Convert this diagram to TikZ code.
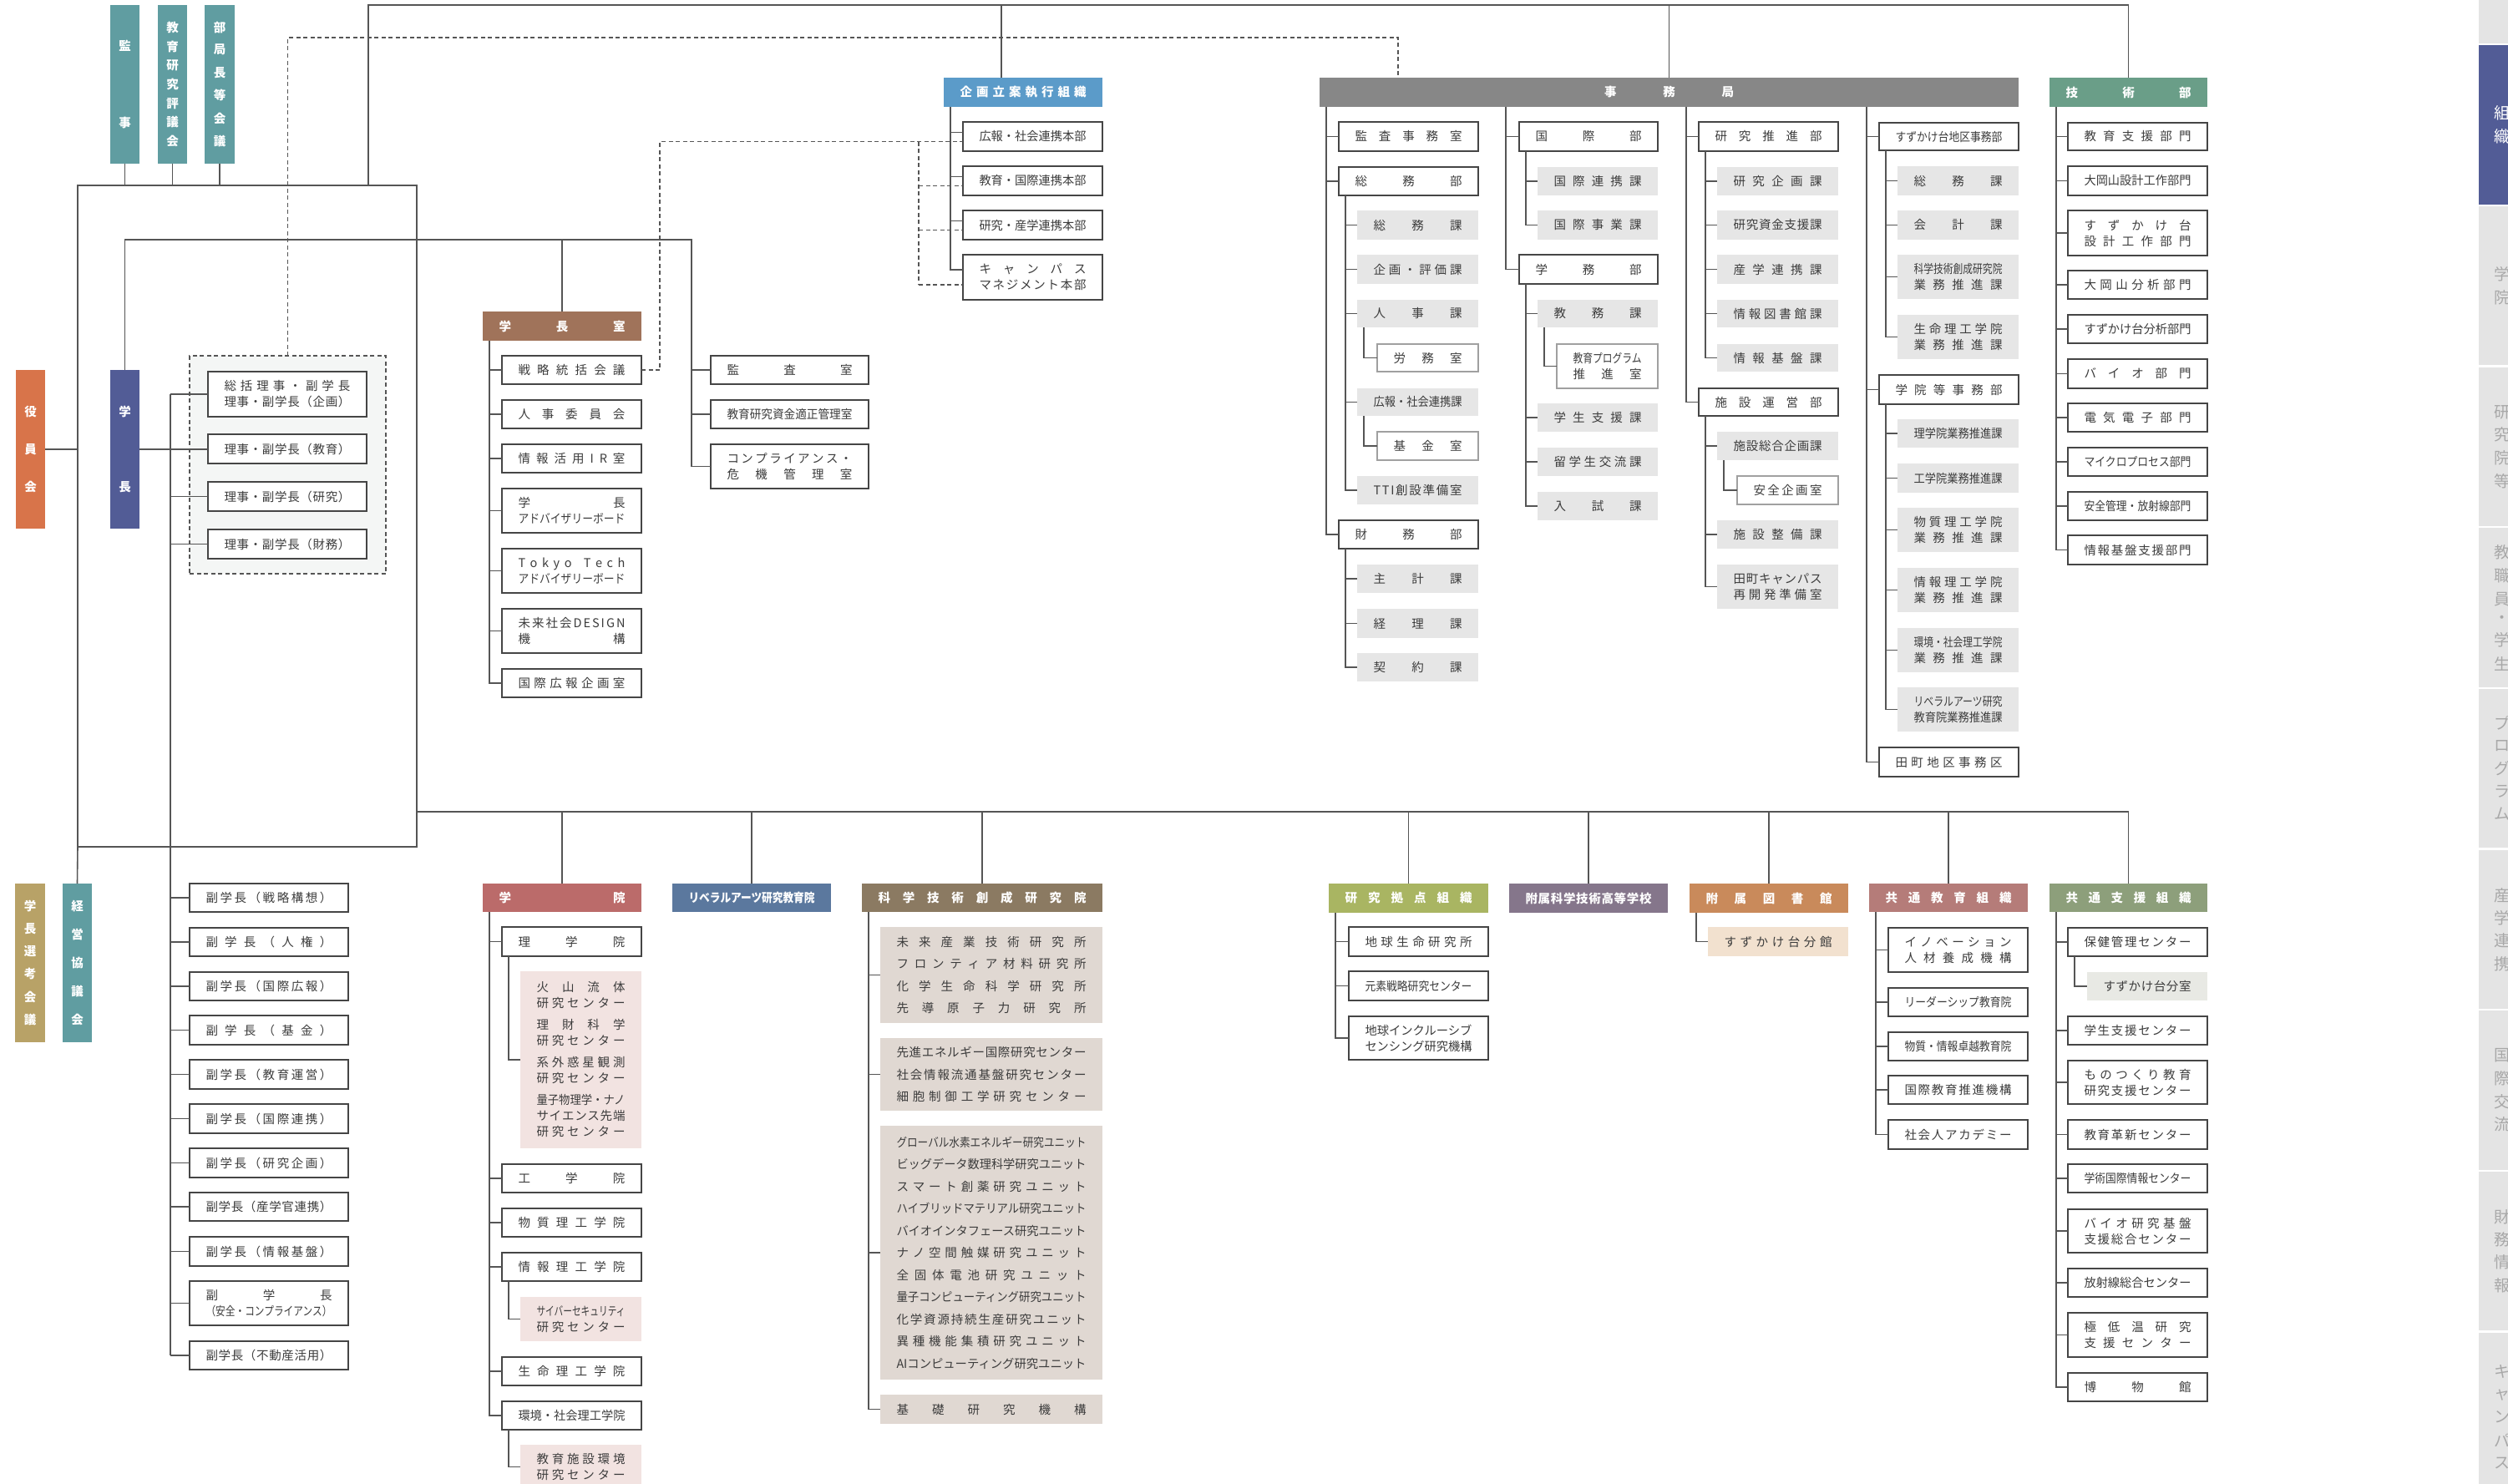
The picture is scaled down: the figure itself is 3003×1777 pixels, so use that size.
\documentclass[tikz,border=0pt]{standalone}
\usepackage{fontspec}
\setmainfont{Noto Sans CJK JP}
\usepackage{graphicx}
\usetikzlibrary{calc}

\definecolor{lnc}{HTML}{555555}
\definecolor{bdc}{HTML}{454545}
\definecolor{thc}{HTML}{A0A0A0}
\definecolor{txc}{HTML}{3C3C3C}
\definecolor{gyc}{HTML}{E6E6E6}
\definecolor{pkc}{HTML}{F2E3E1}
\definecolor{bgc}{HTML}{E0D8D2}
\definecolor{pcc}{HTML}{F2E1CF}
\definecolor{sgc}{HTML}{E8E9E4}
\definecolor{dbx}{HTML}{F4F6F5}
\definecolor{cteal}{HTML}{609DA1}
\definecolor{corange}{HTML}{D8744A}
\definecolor{cindigo}{HTML}{525C96}
\definecolor{ckhaki}{HTML}{B8A267}
\definecolor{cbrown}{HTML}{A0735A}
\definecolor{cblue}{HTML}{5B9BC9}
\definecolor{cgrey}{HTML}{878787}
\definecolor{cgreen}{HTML}{6A9E88}
\definecolor{cred}{HTML}{BB6B6A}
\definecolor{cnavy}{HTML}{5B789E}
\definecolor{ctaupe}{HTML}{8B7A62}
\definecolor{colive}{HTML}{A9B562}
\definecolor{cpurple}{HTML}{85768B}
\definecolor{ccopper}{HTML}{C98A5B}
\definecolor{crose}{HTML}{B57C79}
\definecolor{csage}{HTML}{8D9F7B}
\definecolor{tabg}{HTML}{E4E4E4}
\definecolor{tabt}{HTML}{A8A8A8}

\newsavebox\fitbox
\newlength\tw
\let\distend\relax
\def\distloop#1{#1\futurelet\dnext\distcheck}
\def\distcheck{\ifx\dnext\distend\expandafter\diststop\else\hfill\expandafter\distloop\fi}
\def\diststop#1{}
\newcommand\fl[2]{\sbox\fitbox{#2}\ifdim\wd\fitbox>#1\relax\resizebox{#1}{\height}{\usebox\fitbox}\else\hbox to #1{\distloop#2\distend}\fi}
\newcommand\jl[1]{\fl{\tw}{#1}}
\def\vloop#1{\hbox to 0pt{\hss#1\hss}\futurelet\dnext\vcheck}
\def\vcheck{\ifx\dnext\distend\expandafter\diststop\else\vfill\expandafter\vloop\fi}
\newcommand\vt[2]{\vbox to #1{\offinterlineskip\vloop#2\distend}}
\newcommand\fs{\fontsize{14.5}{19}\selectfont}

\newcommand\bx[7][]{%
  \pgfmathsetlength\tw{#5-#3-39}%
  \pgfmathsetmacro\bxw{#5-#3}%
  \pgfmathsetmacro\bxh{#6-#4}%
  \node[#1,minimum width=\bxw pt,minimum height=\bxh pt] (#2) at ({(#3+#5)/2},{(#4+#6)/2}) {#7};}
\newcommand\sub[2]{\draw[ln] ([xshift=8pt]#1.south west) |- (#2.west);}

\tikzset{
  every node/.style={inner sep=0pt,outer sep=0pt},
  ln/.style={draw=lnc,line width=1.6pt},
  dsh/.style={draw=lnc,line width=1.3pt,dash pattern=on 5pt off 3.5pt},
  wb/.style={draw=bdc,line width=1.8pt,fill=white,text=txc,align=center,font=\fs},
  tb/.style={draw=thc,line width=1.1pt,fill=white,text=txc,align=center,font=\fs},
  gb/.style={fill=gyc,text=txc,align=center,font=\fs},
  pb/.style={fill=pkc,text=txc,align=center,font=\fs},
  sb/.style={fill=bgc,text=txc,align=center,font=\fontsize{14.5}{26.5}\selectfont},
  hd/.style={fill=#1,text=white,align=center,font=\fs\bfseries},
  vb/.style={fill=#1,text=white,font=\fs\bfseries},
  dboxs/.style={fill=dbx,draw=lnc,line width=1.3pt,dash pattern=on 5pt off 3.5pt},
  tabr/.style={fill=#1},
  tabtx/.style={text=#1,font=\fontsize{19}{19}\selectfont},
}

\begin{document}
\begin{tikzpicture}[x=1pt,y=-1pt]
\useasboundingbox (0,0) rectangle (3003,1777);
\clip (0,0) rectangle (3003,1777);
\fill[white] (0,0) rectangle (3003,1777);

% ---------------- right tabs
\bx[tabr=tabg]{tab0}{2968}{-10}{3020}{52}{}
\bx[tabr=cindigo]{tab1}{2968}{54}{3020}{245}{}
\bx[tabr=tabg]{tab2}{2968}{247}{3020}{437}{}
\bx[tabr=tabg]{tab3}{2968}{440}{3020}{630}{}
\bx[tabr=tabg]{tab4}{2968}{632}{3020}{823}{}
\bx[tabr=tabg]{tab5}{2968}{825}{3020}{1015}{}
\bx[tabr=tabg]{tab6}{2968}{1018}{3020}{1208}{}
\bx[tabr=tabg]{tab7}{2968}{1210}{3020}{1401}{}
\bx[tabr=tabg]{tab8}{2968}{1403}{3020}{1593}{}
\bx[tabr=tabg]{tab9}{2968}{1596}{3020}{1790}{}
\node[tabtx=white] (tx1) at (2996,149.5) {\vt{44pt}{組織}};
\node[tabtx=tabt] (tx2) at (2996,342) {\vt{44pt}{学院}};
\node[tabtx=tabt] (tx3) at (2996,535) {\vt{98pt}{研究院等}};
\node[tabtx=tabt] (tx4) at (2996,727.5) {\vt{150pt}{教職員・学生}};
\node[tabtx=tabt] (tx5) at (2996,920) {\vt{124pt}{プログラム}};
\node[tabtx=tabt] (tx6) at (2996,1113) {\vt{98pt}{産学連携}};
\node[tabtx=tabt] (tx7) at (2996,1305.5) {\vt{98pt}{国際交流}};
\node[tabtx=tabt] (tx8) at (2996,1498) {\vt{98pt}{財務情報}};
\node[tabtx=tabt] (tx9) at (2996,1697) {\vt{124pt}{キャンパス}};

% ---------------- top-left governance
\bx[vb=cteal]{kanji}{132}{6}{167}{196}{\vt{104pt}{監事}}
\bx[vb=cteal]{hyogi}{189}{6}{224}{196}{\vt{149pt}{教育研究評議会}}
\bx[vb=cteal]{bukyoku}{245}{6}{281}{196}{\vt{149pt}{部局長等会議}}
\bx[vb=corange]{yakuin}{19}{443}{54}{633}{\vt{103pt}{役員会}}
\bx[vb=cindigo]{gakucho}{132}{443}{167}{633}{\vt{103pt}{学長}}
\bx[vb=ckhaki]{senko}{18}{1058}{54}{1248}{\vt{149pt}{学長選考会議}}
\bx[vb=cteal]{keiei}{75}{1058}{110}{1248}{\vt{149pt}{経営協議会}}

\bx[dboxs]{dbox}{227}{426}{462}{687}{}
\bx[wb]{riji1}{249}{445}{439}{499}{\jl{総括理事・副学長}\\\jl{理事・副学長（企画）}}
\bx[wb]{riji2}{249}{520}{439}{555}{\jl{理事・副学長（教育）}}
\bx[wb]{riji3}{249}{577}{439}{612}{\jl{理事・副学長（研究）}}
\bx[wb]{riji4}{249}{634}{439}{669}{\jl{理事・副学長（財務）}}

% vice presidents
\bx[wb]{f1}{227}{1058}{417}{1092}{\jl{副学長（戦略構想）}}
\bx[wb]{f2}{227}{1111}{417}{1145}{\jl{副学長（人権）}}
\bx[wb]{f3}{227}{1164}{417}{1198}{\jl{副学長（国際広報）}}
\bx[wb]{f4}{227}{1216}{417}{1251}{\jl{副学長（基金）}}
\bx[wb]{f5}{227}{1269}{417}{1304}{\jl{副学長（教育運営）}}
\bx[wb]{f6}{227}{1322}{417}{1357}{\jl{副学長（国際連携）}}
\bx[wb]{f7}{227}{1375}{417}{1410}{\jl{副学長（研究企画）}}
\bx[wb]{f8}{227}{1428}{417}{1462}{\jl{副学長（産学官連携）}}
\bx[wb]{f9}{227}{1481}{417}{1516}{\jl{副学長（情報基盤）}}
\bx[wb]{f10}{227}{1534}{417}{1587}{\jl{副学長}\\\jl{（安全・コンプライアンス）}}
\bx[wb]{f11}{227}{1606}{417}{1640}{\jl{副学長（不動産活用）}}

% ---------------- 学長室
\bx[hd=cbrown]{gch}{578}{373}{768}{408}{\jl{学長室}}
\bx[wb]{senryaku}{601}{426}{768}{460}{\jl{戦略統括会議}}
\bx[wb]{jinji}{601}{479}{768}{513}{\jl{人事委員会}}
\bx[wb]{ir}{601}{532}{768}{566}{\jl{情報活用IR室}}
\bx[wb]{adv}{601}{585}{768}{638}{\jl{学長}\\\jl{アドバイザリーボード}}
\bx[wb]{tt}{601}{657}{768}{710}{\jl{Tokyo\ Tech}\\\jl{アドバイザリーボード}}
\bx[wb]{mirai}{601}{729}{768}{782}{\jl{未来社会DESIGN}\\\jl{機構}}
\bx[wb]{kokuho}{601}{801}{768}{835}{\jl{国際広報企画室}}
\bx[wb]{kansa}{851}{426}{1040}{460}{\jl{監査室}}
\bx[wb]{tekisei}{851}{479}{1040}{513}{\jl{教育研究資金適正管理室}}
\bx[wb]{comp}{851}{532}{1040}{585}{\jl{コンプライアンス・}\\\jl{危機管理室}}

% ---------------- 企画立案執行組織
\bx[hd=cblue]{kh}{1130}{93}{1320}{128}{\jl{企画立案執行組織}}
\bx[wb]{k1}{1153}{146}{1320}{181}{\jl{広報・社会連携本部}}
\bx[wb]{k2}{1153}{199}{1320}{234}{\jl{教育・国際連携本部}}
\bx[wb]{k3}{1153}{252}{1320}{287}{\jl{研究・産学連携本部}}
\bx[wb]{k4}{1153}{305}{1320}{359}{\jl{キャンパス}\\\jl{マネジメント本部}}

% ---------------- 事務局
\bx[hd=cgrey]{jimu}{1580}{93}{2417}{128}{\fl{155pt}{事務局}}
% col 1
\bx[wb]{kansajm}{1603}{146}{1770}{181}{\jl{監査事務室}}
\bx[wb]{somubu}{1603}{200}{1770}{234}{\jl{総務部}}
\bx[gb]{somuka}{1625}{252}{1770}{287}{\jl{総務課}}
\bx[gb]{kikakuka}{1625}{305}{1770}{340}{\jl{企画・評価課}}
\bx[gb]{jinjika}{1625}{359}{1770}{392}{\jl{人事課}}
\bx[tb]{romu}{1649}{412}{1770}{445}{\jl{労務室}}
\bx[gb]{kohoka}{1625}{465}{1770}{498}{\jl{広報・社会連携課}}
\bx[tb]{kikin}{1649}{517}{1770}{551}{\jl{基金室}}
\bx[gb]{tti}{1625}{570}{1770}{604}{\jl{TTI創設準備室}}
\bx[wb]{zaimubu}{1603}{623}{1770}{657}{\jl{財務部}}
\bx[gb]{shukei}{1625}{676}{1770}{710}{\jl{主計課}}
\bx[gb]{keiri}{1625}{729}{1770}{764}{\jl{経理課}}
\bx[gb]{keiyaku}{1625}{782}{1770}{816}{\jl{契約課}}
% col 2
\bx[wb]{kokusaibu}{1819}{146}{1985}{181}{\jl{国際部}}
\bx[gb]{renkei}{1841}{200}{1985}{234}{\jl{国際連携課}}
\bx[gb]{jigyo}{1841}{252}{1985}{287}{\jl{国際事業課}}
\bx[wb]{gakumubu}{1819}{305}{1985}{340}{\jl{学務部}}
\bx[gb]{kyomu}{1841}{359}{1985}{392}{\jl{教務課}}
\bx[tb]{kyoprog}{1864}{412}{1985}{465}{\jl{教育プログラム}\\\jl{推進室}}
\bx[gb]{gakusei}{1841}{483}{1985}{517}{\jl{学生支援課}}
\bx[gb]{ryugaku}{1841}{536}{1985}{570}{\jl{留学生交流課}}
\bx[gb]{nyushi}{1841}{589}{1985}{623}{\jl{入試課}}
% col 3
\bx[wb]{kenkyubu}{2034}{146}{2201}{181}{\jl{研究推進部}}
\bx[gb]{kk1}{2056}{200}{2201}{234}{\jl{研究企画課}}
\bx[gb]{kk2}{2056}{252}{2201}{287}{\jl{研究資金支援課}}
\bx[gb]{kk3}{2056}{305}{2201}{340}{\jl{産学連携課}}
\bx[gb]{kk4}{2056}{359}{2201}{392}{\jl{情報図書館課}}
\bx[gb]{kk5}{2056}{412}{2201}{445}{\jl{情報基盤課}}
\bx[wb]{shisetsubu}{2034}{465}{2201}{498}{\jl{施設運営部}}
\bx[gb]{ss1}{2056}{517}{2201}{551}{\jl{施設総合企画課}}
\bx[tb]{anzen}{2080}{570}{2201}{604}{\jl{安全企画室}}
\bx[gb]{ss3}{2056}{623}{2201}{657}{\jl{施設整備課}}
\bx[gb]{ss4}{2056}{676}{2201}{729}{\jl{田町キャンパス}\\\jl{再開発準備室}}
% col 4
\bx[wb]{suzubu}{2250}{147}{2417}{180}{\jl{すずかけ台地区事務部}}
\bx[gb]{sz1}{2272}{199}{2417}{234}{\jl{総務課}}
\bx[gb]{sz2}{2272}{252}{2417}{287}{\jl{会計課}}
\bx[gb]{sz3}{2272}{305}{2417}{358}{\jl{科学技術創成研究院}\\\jl{業務推進課}}
\bx[gb]{sz4}{2272}{377}{2417}{430}{\jl{生命理工学院}\\\jl{業務推進課}}
\bx[wb]{gakuinbu}{2250}{449}{2417}{484}{\jl{学院等事務部}}
\bx[gb]{gi1}{2272}{502}{2417}{536}{\jl{理学院業務推進課}}
\bx[gb]{gi2}{2272}{555}{2417}{590}{\jl{工学院業務推進課}}
\bx[gb]{gi3}{2272}{608}{2417}{661}{\jl{物質理工学院}\\\jl{業務推進課}}
\bx[gb]{gi4}{2272}{680}{2417}{733}{\jl{情報理工学院}\\\jl{業務推進課}}
\bx[gb]{gi5}{2272}{752}{2417}{805}{\jl{環境・社会理工学院}\\\jl{業務推進課}}
\bx[gb]{gi6}{2272}{823}{2417}{876}{\jl{リベラルアーツ研究}\\\jl{教育院業務推進課}}
\bx[wb]{tamachi}{2250}{895}{2417}{930}{\jl{田町地区事務区}}

% ---------------- 技術部
\bx[hd=cgreen]{gij}{2454}{93}{2643}{128}{\jl{技術部}}
\bx[wb]{g1}{2476}{147}{2643}{180}{\jl{教育支援部門}}
\bx[wb]{g2}{2476}{199}{2643}{234}{\jl{大岡山設計工作部門}}
\bx[wb]{g3}{2476}{252}{2643}{306}{\jl{すずかけ台}\\\jl{設計工作部門}}
\bx[wb]{g4}{2476}{324}{2643}{358}{\jl{大岡山分析部門}}
\bx[wb]{g5}{2476}{377}{2643}{411}{\jl{すずかけ台分析部門}}
\bx[wb]{g6}{2476}{430}{2643}{465}{\jl{バイオ部門}}
\bx[wb]{g7}{2476}{483}{2643}{517}{\jl{電気電子部門}}
\bx[wb]{g8}{2476}{536}{2643}{570}{\jl{マイクロプロセス部門}}
\bx[wb]{g9}{2476}{589}{2643}{623}{\jl{安全管理・放射線部門}}
\bx[wb]{g10}{2476}{641}{2643}{676}{\jl{情報基盤支援部門}}

% ---------------- bottom row headers
\bx[hd=cred]{gakuin}{578}{1058}{768}{1092}{\jl{学院}}
\bx[hd=cnavy]{liberal}{805}{1058}{995}{1092}{\jl{リベラルアーツ研究教育院}}
\bx[hd=ctaupe]{sozo}{1032}{1058}{1320}{1092}{\jl{科学技術創成研究院}}
\bx[hd=colive]{kyoten}{1591}{1058}{1782}{1093}{\jl{研究拠点組織}}
\bx[hd=cpurple]{fuzoku}{1807}{1058}{1997}{1093}{\jl{附属科学技術高等学校}}
\bx[hd=ccopper]{tosho}{2023}{1058}{2213}{1093}{\jl{附属図書館}}
\bx[hd=crose]{kyoiku}{2238}{1058}{2428}{1092}{\jl{共通教育組織}}
\bx[hd=csage]{shien}{2454}{1058}{2643}{1092}{\jl{共通支援組織}}

% 学院
\bx[wb]{rigaku}{601}{1110}{768}{1145}{\jl{理学院}}
\bx[pb]{pink1}{623}{1163}{768}{1375}{\jl{火山流体}\\\jl{研究センター}\\[7pt]\jl{理財科学}\\\jl{研究センター}\\[7pt]\jl{系外惑星観測}\\\jl{研究センター}\\[7pt]\jl{量子物理学・ナノ}\\\jl{サイエンス先端}\\\jl{研究センター}}
\bx[wb]{kogaku}{601}{1394}{768}{1428}{\jl{工学院}}
\bx[wb]{busshitsu}{601}{1447}{768}{1481}{\jl{物質理工学院}}
\bx[wb]{joho}{601}{1500}{768}{1534}{\jl{情報理工学院}}
\bx[pb]{pink2}{623}{1553}{768}{1606}{\jl{サイバーセキュリティ}\\\jl{研究センター}}
\bx[wb]{seimei}{601}{1625}{768}{1659}{\jl{生命理工学院}}
\bx[wb]{kankyo}{601}{1678}{768}{1712}{\jl{環境・社会理工学院}}
\bx[pb]{pink3}{623}{1730}{768}{1783}{\jl{教育施設環境}\\\jl{研究センター}}

% 科学技術創成研究院
\bx[sb]{s1}{1054}{1110}{1320}{1225}{\jl{未来産業技術研究所}\\\jl{フロンティア材料研究所}\\\jl{化学生命科学研究所}\\\jl{先導原子力研究所}}
\bx[sb]{s2}{1054}{1243}{1320}{1330}{\jl{先進エネルギー国際研究センター}\\\jl{社会情報流通基盤研究センター}\\\jl{細胞制御工学研究センター}}
\bx[sb]{s3}{1054}{1348}{1320}{1652}{\jl{グローバル水素エネルギー研究ユニット}\\\jl{ビッグデータ数理科学研究ユニット}\\\jl{スマート創薬研究ユニット}\\\jl{ハイブリッドマテリアル研究ユニット}\\\jl{バイオインタフェース研究ユニット}\\\jl{ナノ空間触媒研究ユニット}\\\jl{全固体電池研究ユニット}\\\jl{量子コンピューティング研究ユニット}\\\jl{化学資源持続生産研究ユニット}\\\jl{異種機能集積研究ユニット}\\\jl{AIコンピューティング研究ユニット}}
\bx[sb]{s4}{1054}{1670}{1320}{1705}{\jl{基礎研究機構}}

% 研究拠点組織
\bx[wb]{c1}{1615}{1110}{1782}{1145}{\jl{地球生命研究所}}
\bx[wb]{c2}{1615}{1163}{1782}{1198}{\jl{元素戦略研究センター}}
\bx[wb]{c3}{1615}{1217}{1782}{1269}{\jl{地球インクルーシブ}\\\jl{センシング研究機構}}

% 附属図書館
\bx[gb,fill=pcc]{bunkan}{2045}{1110}{2213}{1145}{\jl{すずかけ台分館}}

% 共通教育組織
\bx[wb]{e1}{2261}{1111}{2428}{1164}{\jl{イノベーション}\\\jl{人材養成機構}}
\bx[wb]{e2}{2261}{1183}{2428}{1217}{\jl{リーダーシップ教育院}}
\bx[wb]{e3}{2261}{1236}{2428}{1270}{\jl{物質・情報卓越教育院}}
\bx[wb]{e4}{2261}{1288}{2428}{1322}{\jl{国際教育推進機構}}
\bx[wb]{e5}{2261}{1341}{2428}{1376}{\jl{社会人アカデミー}}

% 共通支援組織
\bx[wb]{h1}{2476}{1111}{2643}{1145}{\jl{保健管理センター}}
\bx[gb,fill=sgc]{h1b}{2499}{1164}{2643}{1198}{\jl{すずかけ台分室}}
\bx[wb]{h2}{2476}{1217}{2643}{1251}{\jl{学生支援センター}}
\bx[wb]{h3}{2476}{1270}{2643}{1322}{\jl{ものつくり教育}\\\jl{研究支援センター}}
\bx[wb]{h4}{2476}{1341}{2643}{1376}{\jl{教育革新センター}}
\bx[wb]{h5}{2476}{1394}{2643}{1428}{\jl{学術国際情報センター}}
\bx[wb]{h6}{2476}{1448}{2643}{1500}{\jl{バイオ研究基盤}\\\jl{支援総合センター}}
\bx[wb]{h7}{2476}{1519}{2643}{1553}{\jl{放射線総合センター}}
\bx[wb]{h8}{2476}{1572}{2643}{1625}{\jl{極低温研究}\\\jl{支援センター}}
\bx[wb]{h9}{2476}{1644}{2643}{1678}{\jl{博物館}}

% ================= connectors
\coordinate (fA) at (93,222);
\coordinate (fB) at (499,1014);
\draw[ln] (fA) rectangle (fB);
\draw[ln] (fA |- fB) -- (keiei.north);
\foreach \n in {kanji,hyogi,bukyoku} {\draw[ln] (\n.south) -- (\n.south |- fA);}
\draw[ln] (yakuin.east) -- (yakuin.east -| fA);
\coordinate (topL) at (441,6);
\draw[ln] (topL |- fA) -- (topL) -| (gij.north);
\coordinate (kdrop) at (1199,6);
\draw[ln] (kdrop) -- (kdrop |- kh.north);
\draw[ln] (jimu.north |- topL) -- (jimu.north);

% president
\coordinate (kt) at (828,287);
\draw[ln] (gakucho.north) |- (kt) -- (kt |- comp.west) -- (comp.west);
\draw[ln] (kt |- kansa.west) -- (kansa.west);
\draw[ln] (kt |- tekisei.west) -- (tekisei.west);
\draw[ln] (gch.north |- kt) -- (gch.north);
\draw[ln] (gakucho.east) -- (gakucho.east -| riji2.west);
\coordinate (vtr) at (204,0);
\draw[ln] (vtr |- riji1.west) -- (vtr |- f11.west);
\foreach \n in {riji1,riji3,riji4,f1,f2,f3,f4,f5,f6,f7,f8,f9,f10,f11} {\draw[ln] (vtr |- \n.west) -- (\n.west);}

% dashed links
\coordinate (dtop) at (1674,45);
\draw[dsh] (dbox.north) |- (dtop) -- (dtop |- jimu.north);
\coordinate (dx) at (790,0);
\coordinate (dk) at (1100,0);
\coordinate (k1d) at ($(k1.west)+(0,6)$);
\coordinate (k2d) at ($(k2.west)+(0,6)$);
\coordinate (k3d) at ($(k3.west)+(0,6)$);
\coordinate (k4d) at ($(k4.west)+(0,9)$);
\draw[dsh] (senryaku.east) -| (dx |- k1d) -- (k1d);
\draw[dsh] (dk |- k1d) -- (dk |- k4d);
\foreach \n in {k2d,k3d,k4d} {\draw[dsh] (dk |- \n) -- (\n);}

% 学長室 / 企画
\foreach \n in {senryaku,jinji,ir,adv,tt,mirai,kokuho} {\sub{gch}{\n}}
\foreach \n/\s in {k1/5,k2/5,k3/5,k4/9} {\draw[ln] ([xshift=8pt]kh.south west) |- ($(\n.west)+(0,-\s)$);}

% 事務局
\coordinate (j1) at (1588,0);
\coordinate (j2) at (1803,0);
\coordinate (j3) at (2019,0);
\coordinate (j4) at (2235,0);
\foreach \n in {kansajm,somubu,zaimubu} {\draw[ln] (j1 |- jimu.south) |- (\n.west);}
\foreach \n in {kokusaibu,gakumubu} {\draw[ln] (j2 |- jimu.south) |- (\n.west);}
\foreach \n in {kenkyubu,shisetsubu} {\draw[ln] (j3 |- jimu.south) |- (\n.west);}
\foreach \n in {suzubu,gakuinbu,tamachi} {\draw[ln] (j4 |- jimu.south) |- (\n.west);}
\foreach \n in {somuka,kikakuka,jinjika,kohoka,tti} {\sub{somubu}{\n}}
\sub{jinjika}{romu}
\sub{kohoka}{kikin}
\foreach \n in {shukei,keiri,keiyaku} {\sub{zaimubu}{\n}}
\foreach \n in {renkei,jigyo} {\sub{kokusaibu}{\n}}
\foreach \n in {kyomu,gakusei,ryugaku,nyushi} {\sub{gakumubu}{\n}}
\sub{kyomu}{kyoprog}
\foreach \n in {kk1,kk2,kk3,kk4,kk5} {\sub{kenkyubu}{\n}}
\foreach \n in {ss1,ss3,ss4} {\sub{shisetsubu}{\n}}
\sub{ss1}{anzen}
\foreach \n in {sz1,sz2,sz3,sz4} {\sub{suzubu}{\n}}
\foreach \n in {gi1,gi2,gi3,gi4,gi5,gi6} {\sub{gakuinbu}{\n}}
\foreach \n in {g1,g2,g3,g4,g5,g6,g7,g8,g9,g10} {\sub{gij}{\n}}

% bottom row
\coordinate (bl) at (499,972);
\draw[ln] (bl) -| (shien.north);
\foreach \n in {gakuin,liberal,sozo,kyoten,fuzoku,tosho,kyoiku} {\draw[ln] (\n.north |- bl) -- (\n.north);}
\foreach \n in {rigaku,kogaku,busshitsu,joho,seimei,kankyo} {\sub{gakuin}{\n}}
\sub{rigaku}{pink1}
\sub{joho}{pink2}
\sub{kankyo}{pink3}
\foreach \n in {s1,s2,s3,s4} {\sub{sozo}{\n}}
\foreach \n in {c1,c2,c3} {\sub{kyoten}{\n}}
\sub{tosho}{bunkan}
\foreach \n in {e1,e2,e3,e4,e5} {\sub{kyoiku}{\n}}
\foreach \n in {h1,h2,h3,h4,h5,h6,h7,h8,h9} {\sub{shien}{\n}}
\sub{h1}{h1b}
\end{tikzpicture}
\end{document}
